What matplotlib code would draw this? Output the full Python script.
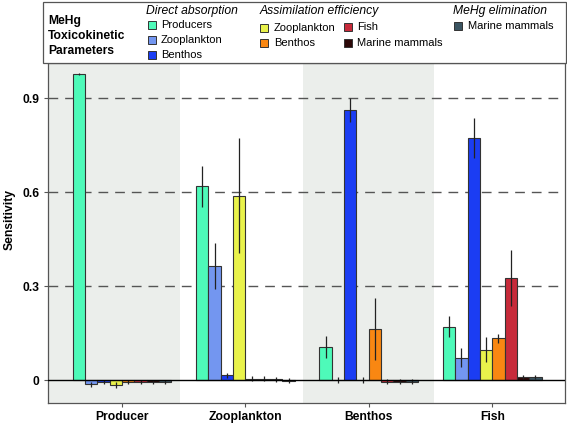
import matplotlib
matplotlib.use("Agg")
import matplotlib.pyplot as plt
import numpy as np
from matplotlib.patches import Rectangle

plt.rcParams['font.family'] = ['Liberation Sans', 'DejaVu Sans']

groups = ["Producer", "Zooplankton", "Benthos", "Fish"]

series_labels = ["Producers", "Zooplankton", "Benthos",
                 "Zooplankton", "Benthos", "Fish", "Marine mammals",
                 "Marine mammals"]
series_colors = ["#4EFAB9", "#7396F0", "#1B3DF3", "#E9F24B",
                 "#F98712", "#C72A3A", "#2C0808", "#3B5562"]

direct_producers = [0.977, 0.618, 0.106, 0.171]
direct_zooplankton = [-0.013, 0.363, 0.0, 0.071]
direct_benthos = [-0.005, 0.016, 0.863, 0.773]
assim_zooplankton = [-0.015, 0.589, 0.0, 0.097]
assim_benthos = [-0.005, 0.005, 0.162, 0.133]
assim_fish = [-0.005, 0.005, -0.005, 0.326]
assim_marine_mammals = [-0.005, 0.003, -0.005, 0.010]
elim_marine_mammals = [-0.005, -0.002, -0.005, 0.010]

err_direct_producers = [0.004, 0.066, 0.036, 0.033]
err_direct_zooplankton = [0.008, 0.073, 0.010, 0.030]
err_direct_benthos = [0.006, 0.008, 0.038, 0.065]
err_assim_zooplankton = [0.010, 0.184, 0.010, 0.040]
err_assim_benthos = [0.006, 0.008, 0.099, 0.015]
err_assim_fish = [0.006, 0.008, 0.008, 0.090]
err_assim_marine_mammals = [0.006, 0.008, 0.008, 0.005]
err_elim_marine_mammals = [0.006, 0.008, 0.008, 0.006]

values = [direct_producers, direct_zooplankton, direct_benthos,
          assim_zooplankton, assim_benthos, assim_fish,
          assim_marine_mammals, elim_marine_mammals]
errors = [err_direct_producers, err_direct_zooplankton, err_direct_benthos,
          err_assim_zooplankton, err_assim_benthos, err_assim_fish,
          err_assim_marine_mammals, err_elim_marine_mammals]

yticks = [0, 0.3, 0.6, 0.9]
ytick_labels = ["0", "0.3", "0.6", "0.9"]

W, H = 567, 424
fig = plt.figure(figsize=(W / 100, H / 100), dpi=100)

def fx(px):
    return px / W

def fy(py):
    return 1 - py / H

ax = fig.add_axes([fx(48), fy(403), fx(565) - fx(48), fy(63) - fy(403)])

x = np.arange(1, len(groups) + 1)
n = len(values)
bw = 0.1
for i, (v, e, c) in enumerate(zip(values, errors, series_colors)):
    xpos = x + (i - (n - 1) / 2) * bw
    ax.bar(xpos, v, width=bw, color=c, edgecolor="#333333", linewidth=0.8, zorder=3)
    ax.errorbar(xpos, v, yerr=e, fmt="none", ecolor="#222222", elinewidth=0.9,
                capsize=0, zorder=4)

xmin, xmax = 0.4, 4.59
# shaded group panels
ax.axvspan(xmin, 1.47, color="#EBEEEB", zorder=0, lw=0)
ax.axvspan(2.47, 3.53, color="#EBEEEB", zorder=0, lw=0)

ax.set_xlim(xmin, xmax)
ax.set_ylim(-0.073, 1.012)
for yv in yticks[1:]:
    ax.axhline(yv, color="#555555", lw=1.0, ls=(0, (7, 5)), zorder=1)
ax.axhline(0, color="black", lw=1.0, zorder=5)

ax.set_yticks(yticks)
ax.set_yticklabels(ytick_labels, fontweight="bold", fontsize=8.7)
ax.set_xticks(x)
ax.set_xticklabels(groups, fontweight="bold", fontsize=8.7)
ax.tick_params(axis="both", length=3, width=0.8, color="#555555", pad=3)
for s in ax.spines.values():
    s.set_color("#555555")
    s.set_linewidth(0.9)
fig.text(fx(10), fy(220), "Sensitivity", fontweight="bold", fontsize=8.7,
         rotation=90, va="center", ha="center")

# legend box (figure-level)
fig.patches.append(Rectangle((fx(43), fy(63)), fx(566) - fx(43), fy(2) - fy(63),
                             transform=fig.transFigure, facecolor="white",
                             edgecolor="#555555", lw=0.9, zorder=0))

fs_title = 8.7
fs_item = 8.0
fig.text(fx(48), fy(21), "MeHg", fontweight="bold", fontsize=fs_title, va="center", ha="left")
fig.text(fx(48), fy(36), "Toxicokinetic", fontweight="bold", fontsize=fs_title, va="center", ha="left")
fig.text(fx(48), fy(51), "Parameters", fontweight="bold", fontsize=fs_title, va="center", ha="left")

headers = ["Direct absorption", "Assimilation efficiency", "MeHg elimination"]
header_pos = [(146, 11), (260, 11), (453, 11)]
for h, (px, py) in zip(headers, header_pos):
    fig.text(fx(px), fy(py), h, style="italic", fontsize=fs_title, va="center", ha="left")

marker_pos = [(148, 25), (148, 40), (148, 55),
              (260, 28), (260, 43), (344, 27), (344, 43),
              (454, 26)]
text_x = [161, 161, 161, 274, 274, 357, 357, 468]
sq = 7.5
for lab, col, (px, py), tx in zip(series_labels, series_colors, marker_pos, text_x):
    fig.patches.append(Rectangle((fx(px), fy(py + sq / 2)), fx(sq), fy(0) - fy(sq),
                                 transform=fig.transFigure, facecolor=col,
                                 edgecolor="#333333", lw=0.7, zorder=2))
    fig.text(fx(tx), fy(py), lab, fontsize=fs_item, va="center", ha="left")

fig.savefig("out.png", dpi=100)
